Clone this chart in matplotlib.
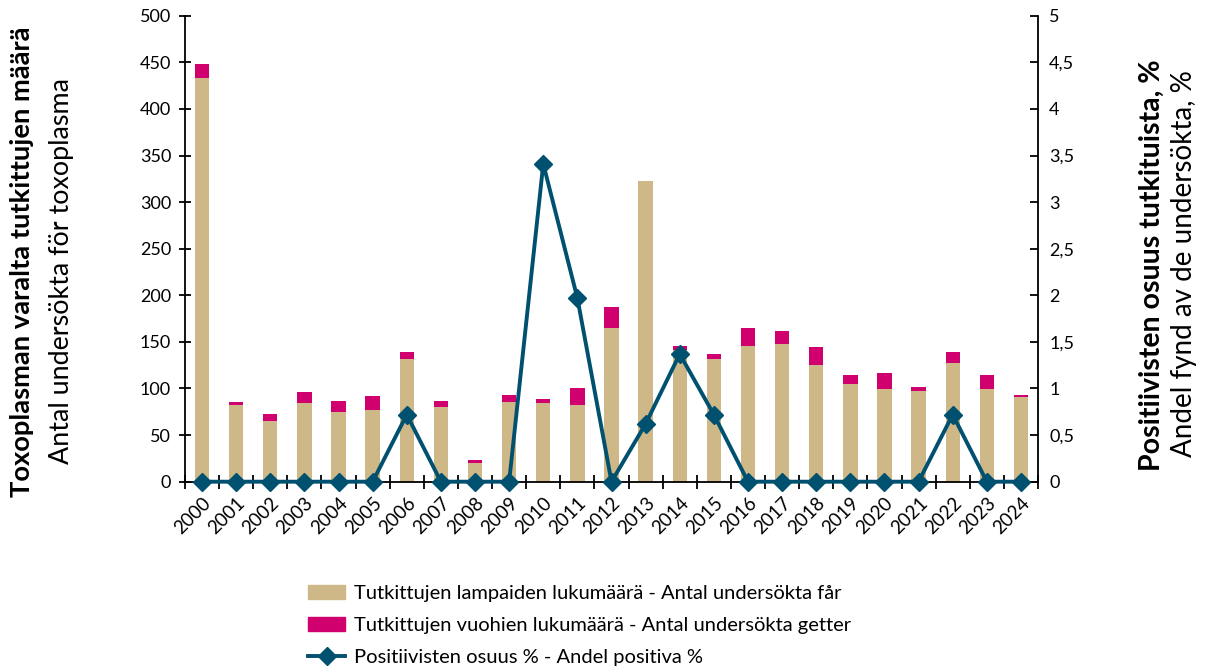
import matplotlib
matplotlib.use("Agg")
import matplotlib.pyplot as plt
import numpy as np
from matplotlib.lines import Line2D
from matplotlib.patches import Patch
from matplotlib.ticker import FixedLocator

plt.rcParams['font.family'] = ['Lato', 'DejaVu Sans']

years = [str(y) for y in range(2000, 2025)]
sheep = [433, 82, 65, 84, 75, 77, 132, 80, 20, 86, 84, 82, 165, 323, 141, 132, 146, 148, 125, 105, 100, 97, 127, 100, 91]
goats = [15, 3, 8, 12, 12, 15, 7, 7, 3, 7, 5, 19, 22, 0, 5, 5, 19, 14, 19, 10, 17, 5, 12, 15, 2]
positive_pct = [0, 0, 0, 0, 0, 0, 0.72, 0, 0, 0, 3.41, 1.97, 0, 0.62, 1.37, 0.72, 0, 0, 0, 0, 0, 0, 0.72, 0, 0]

left_ticks = [0, 50, 100, 150, 200, 250, 300, 350, 400, 450, 500]
right_ticks = [0, 0.5, 1, 1.5, 2, 2.5, 3, 3.5, 4, 4.5, 5]
right_tick_labels = ["0", "0,5", "1", "1,5", "2", "2,5", "3", "3,5", "4", "4,5", "5"]

c_sheep = "#CFB887"
c_goat = "#D1006F"
c_line = "#00506F"

fig = plt.figure(figsize=(12.06, 6.69), dpi=100)
ax = fig.add_axes([185/1206, 1-481.7/669, (1038-185)/1206, (481.7-15.7)/669])
x = np.arange(len(years))
ax.bar(x, sheep, width=0.42, color=c_sheep, zorder=2)
ax.bar(x, goats, width=0.42, bottom=sheep, color=c_goat, zorder=2)
ax.set_xlim(-0.5, len(years) - 0.5)
ax.set_ylim(0, 500)
ax.set_yticks(left_ticks)
ax.set_xticks(x)
ax.set_xticklabels(years, rotation=45, ha='right', rotation_mode='anchor', fontsize=13.5)
ax.xaxis.set_minor_locator(FixedLocator(np.arange(-0.5, len(years), 1.0)))
ax.tick_params(axis='x', which='major', length=0, pad=9)
ax.tick_params(axis='x', which='minor', direction='inout', length=10, width=1.3)
ax.tick_params(axis='y', direction='inout', length=8, width=1.3, labelsize=13, pad=6)
for s in ['top', 'right']:
    ax.spines[s].set_visible(False)
for s in ['left', 'bottom']:
    ax.spines[s].set_linewidth(1.3)

ax2 = ax.twinx()
ax2.plot(x, positive_pct, color=c_line, lw=2.8, marker='D', markersize=9, clip_on=False, zorder=5)
ax2.set_ylim(0, 5)
ax2.set_yticks(right_ticks)
ax2.set_yticklabels(right_tick_labels)
ax2.tick_params(axis='y', direction='in', length=6, width=1.3, labelsize=13, pad=8)
for s in ['top', 'left', 'bottom']:
    ax2.spines[s].set_visible(False)
ax2.spines['right'].set_linewidth(1.3)

fig.text(22/1206, 1-262/669, "Toxoplasman varalta tutkittujen määrä", rotation=90,
         ha='center', va='center', fontsize=19.7, fontweight='bold')
fig.text(62/1206, 1-271/669, "Antal undersökta för toxoplasma", rotation=90,
         ha='center', va='center', fontsize=19.4)
fig.text(1152/1206, 1-265/669, "Positiivisten osuus tutkituista, %", rotation=90,
         ha='center', va='center', fontsize=20.5, fontweight='bold')
fig.text(1184/1206, 1-264/669, "Andel fynd av de undersökta, %", rotation=90,
         ha='center', va='center', fontsize=20)

handles = [Patch(color=c_sheep), Patch(color=c_goat),
           Line2D([0], [0], color=c_line, lw=2.8, marker='D', markersize=9)]
labels = ["Tutkittujen lampaiden lukumäärä - Antal undersökta får",
          "Tutkittujen vuohien lukumäärä - Antal undersökta getter",
          "Positiivisten osuus % - Andel positiva %"]
fig.legend(handles, labels, loc='upper left', bbox_to_anchor=(308/1206, 1-585/669),
           frameon=False, fontsize=14.5, handlelength=1.84, handletextpad=0.45,
           labelspacing=0.75, borderpad=0, borderaxespad=0)

fig.savefig("out.png", dpi=100)
